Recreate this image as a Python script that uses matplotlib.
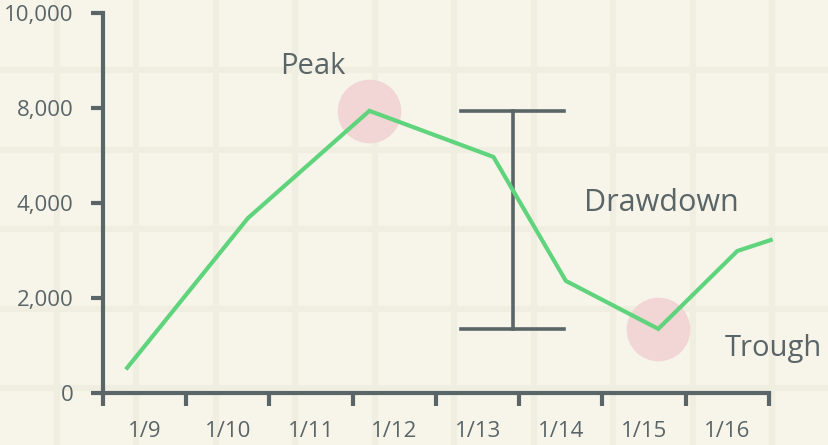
import matplotlib.pyplot as plt
import numpy as np

# line data (x in days from the 1/9 tick, y in axis units)
day_pos = [0.29, 1.74, 3.20, 4.69, 5.56, 6.67, 7.62, 8.02]
values = [530, 3680, 5940, 4970, 2360, 1350, 2990, 3220]

y_ticks = [0, 2000, 4000, 6000, 8000]
y_labels = ["0", "2,000", "4,000", "8,000", "10,000"]
days = ["1/9", "1/10", "1/11", "1/12", "1/13", "1/14", "1/15", "1/16"]

BG = "#f7f5ea"
GRID = "#f0eee1"
INK = "#5a6568"
GREEN = "#5fd47c"
PINK = "#f2d5d5"

plt.rcParams["font.family"] = ["Open Sans", "DejaVu Sans"]

W, H = 829, 445
fig = plt.figure(figsize=(W / 100, H / 100), dpi=100)
fig.patch.set_facecolor(BG)

# background paper grid
bg = fig.add_axes([0, 0, 1, 1])
bg.set_xlim(0, W)
bg.set_ylim(H, 0)
bg.axis("off")
for gx in np.arange(57, W, 79.5):
    bg.axvline(gx, color=GRID, lw=4.5)
for gy in np.arange(70, H, 79.5):
    bg.axhline(gy, color=GRID, lw=4.5)

ax = fig.add_axes([103 / W, (H - 393) / H, (769 - 103) / W, (393 - 13) / H])
ax.patch.set_alpha(0)
ax.set_xlim(0, len(days))
ax.set_ylim(0, 8000)

for side in ["top", "right"]:
    ax.spines[side].set_visible(False)
for side in ["left", "bottom"]:
    ax.spines[side].set_color(INK)
    ax.spines[side].set_linewidth(3)

ax.set_yticks(y_ticks)
ax.set_yticklabels(y_labels)
ax.set_xticks(np.arange(len(days) + 1))
ax.set_xticklabels([])
ax.set_xticks(np.arange(len(days)) + 0.5, minor=True)
ax.set_xticklabels(days, minor=True)
ax.tick_params(axis="y", length=8.5, width=3, color=INK, labelcolor=INK,
               labelsize=16, pad=13)
ax.tick_params(axis="x", which="major", length=9, width=3, color=INK)
ax.tick_params(axis="x", which="minor", length=0, labelcolor=INK,
               labelsize=16, pad=20)

# peak, and the lowest point after it
i_peak = int(np.argmax(values))
i_trough = i_peak + int(np.argmin(values[i_peak:]))
ax.scatter([day_pos[i_peak], day_pos[i_trough]],
           [values[i_peak], values[i_trough]],
           s=2100, color=PINK, zorder=1, linewidths=0, clip_on=False)

ax.plot(day_pos, values, color=GREEN, lw=3, zorder=3, clip_on=False,
        solid_joinstyle="miter")

# drawdown bracket
bx = 4.92
cap = 0.62
ax.plot([bx, bx], [values[i_trough], values[i_peak]], color=INK, lw=2.6, zorder=2)
ax.plot([bx - cap, bx + cap], [values[i_peak]] * 2, color=INK, lw=2.6, zorder=2)
ax.plot([bx - cap, bx + cap], [values[i_trough]] * 2, color=INK, lw=2.6, zorder=2)

ax.annotate("Peak", (day_pos[i_peak], values[i_peak]), xytext=(-41, 32),
            textcoords="offset points", ha="center", va="center",
            fontsize=21, color=INK)
ax.annotate("Drawdown", (bx, (values[i_peak] + values[i_trough]) / 2),
            xytext=(107, 12), textcoords="offset points", ha="center",
            va="center", fontsize=22, color=INK)
ax.annotate("Trough", (day_pos[i_trough], values[i_trough]), xytext=(83, -14),
            textcoords="offset points", ha="center", va="center",
            fontsize=21, color=INK, annotation_clip=False)

fig.savefig("out.png", dpi=100, facecolor=BG)
